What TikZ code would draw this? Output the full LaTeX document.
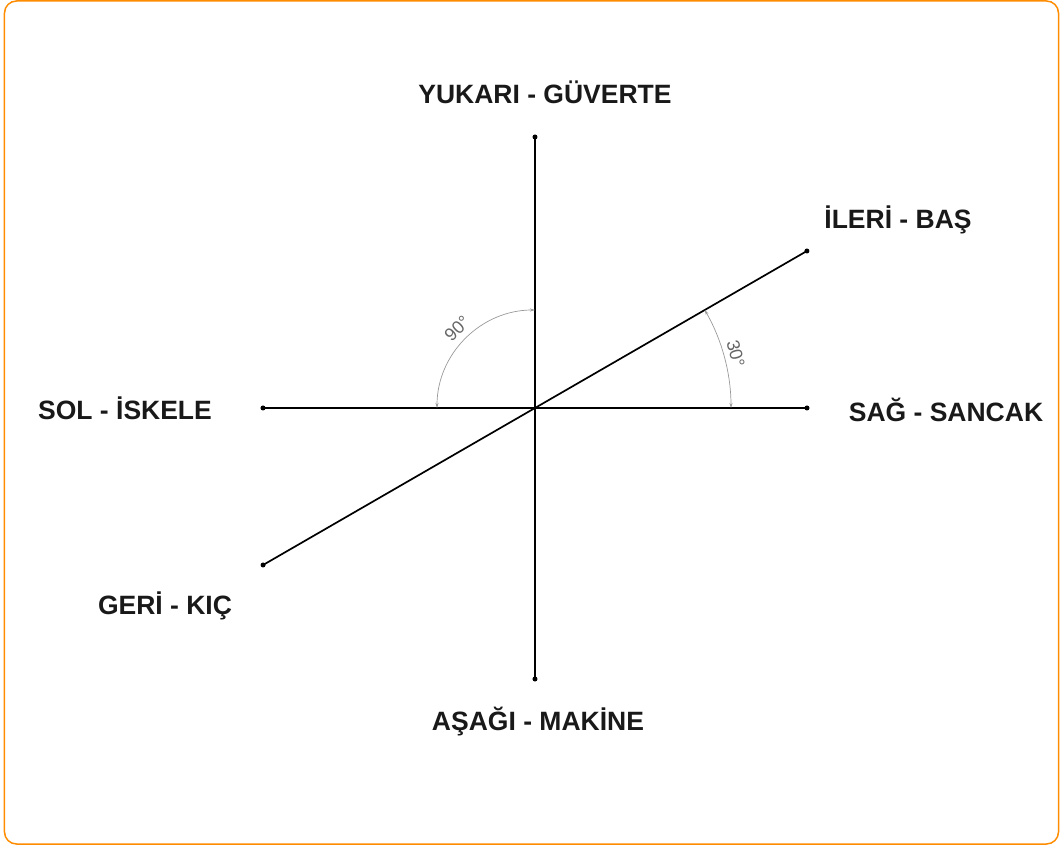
\documentclass[tikz,border=0pt]{standalone}
\usepackage{fontspec}
\setmainfont{Liberation Sans}
\usepackage{tikz}
\usetikzlibrary{arrows.meta, positioning}

\begin{document}
\begin{tikzpicture}[x=1pt, y=1pt,
    axisline/.style={line width=1.7pt, black},
    anglearc/.style={gray!80, line width=0.7pt, {Stealth[length=5pt,width=3pt]}-{Stealth[length=5pt,width=3pt]}},
    dirlabel/.style={font=\fontsize{26.5}{30}\selectfont\bfseries, text=black!90, inner sep=0pt},
    anglelabel/.style={font=\fontsize{18}{20}\selectfont, text=black!60, inner sep=0pt}]
    % frame
    \useasboundingbox (-535,408) rectangle (525,-437);
    \draw [orange!90!yellow, line width=1.5pt, rounded corners=12pt] (-530.5,407) rectangle (523.5,-436);

    % axes
    \coordinate (O) at (0,0);
    \coordinate (up) at (0,271);
    \coordinate (down) at (0,-271);
    \coordinate (left) at (-272,0);
    \coordinate (right) at (272,0);
    \coordinate (fwd) at (30:314);
    \coordinate (aft) at (210:314);

    \draw [axisline] (up) -- (down);
    \draw [axisline] (left) -- (right);
    \draw [axisline] (aft) -- (fwd);
    \foreach \p in {up, down, left, right, fwd, aft}
        \fill (\p) circle (2.5pt);

    % angles
    \draw [anglearc] (-98,0) arc (180:90:98);
    \draw [anglearc] (196,0) arc (0:30:196);
    \node (ninety) [anglelabel, rotate=44] at (134.6:111) {90°};
    \node (thirty) [anglelabel, rotate=-75] at (15.1:208) {30°};

    % labels
    \node (yukari) [dirlabel] at (10,316) {YUKARI - GÜVERTE};
    \node (ileri) [dirlabel] at (363,188) {İLERİ - BAŞ};
    \node (sol) [dirlabel] at (-410,0) {SOL - İSKELE};
    \node (sag) [dirlabel] at (411,-2) {SAĞ - SANCAK};
    \node (geri) [dirlabel] at (-370,-198) {GERİ - KIÇ};
    \node (asagi) [dirlabel] at (3,-314) {AŞAĞI - MAKİNE};
\end{tikzpicture}
\end{document}
